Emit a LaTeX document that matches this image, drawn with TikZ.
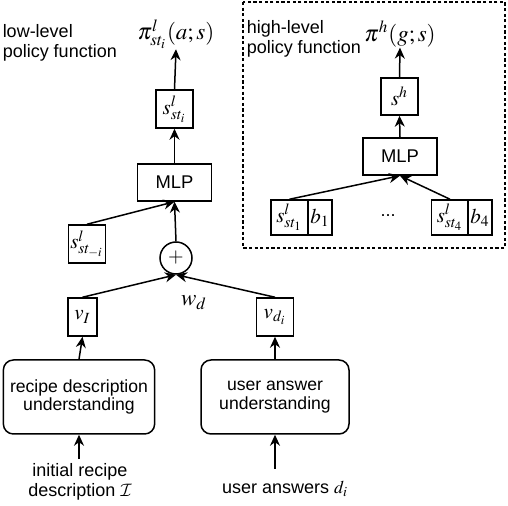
\documentclass[tikz,border=0pt]{standalone}
\usepackage{mathptmx}
\usepackage{fontspec}
\setmainfont{Liberation Sans}
\DeclareMathAlphabet{\mathcal}{OMS}{cmsy}{m}{n}
\usetikzlibrary{arrows.meta}
\tikzset{
	rectnode/.style={rectangle, draw, line width=0.75pt, inner sep=0pt, minimum width=18.5pt, minimum height=19pt, font=\fontsize{10.5}{12}\selectfont},
	mlpnode/.style={rectangle, draw, line width=0.75pt, inner sep=0pt, minimum width=37pt, minimum height=18.5pt, font=\fontsize{9.2}{10}\selectfont},
	roundnode/.style={circle, draw, line width=0.75pt, inner sep=0pt, minimum size=16pt, font=\fontsize{10}{12}\selectfont},
	modnode/.style={rectangle, rounded corners=5pt, draw, line width=0.75pt, align=center, minimum width=74pt, minimum height=37pt, font=\fontsize{8.8}{9.4}\selectfont},
	txtnode/.style={align=center, inner sep=0pt, font=\fontsize{9}{9.8}\selectfont},
	mathlbl/.style={inner sep=0pt, font=\fontsize{11.5}{12}\selectfont},
	mydashed/.style={dash pattern=on 1.6pt off 1.2pt, line width=0.7pt}
}
\begin{document}
\begin{tikzpicture}[x=0.5pt, y=-0.5pt, >={Stealth[length=5.5pt,width=5pt]}, line width=0.75pt]
	\useasboundingbox (0,0) rectangle (508,506);
	% low-level policy
	\node[txtnode, align=left, anchor=north west] at (2,24) (lowt) {low-level\\policy function};
	\node[mathlbl] at (176,34) (pil) {$\pi^{l}_{st_i}(a;s)$};
	\node[rectnode] at (174.5,109) (sl) {$s^{l}_{st_i}$};
	\node[mlpnode] at (174.5,182.5) (mlpl) {MLP};
	\node[rectnode] at (87,244) (slm) {$s^{l}_{st_{-i}}$};
	\node[roundnode] at (176,258) (plus) {$+$};
	\node[rectnode, minimum width=14.5pt] at (82.5,317) (vi) {$v_{I}$};
	\node[rectnode] at (275,317) (vd) {$v_{d_i}$};
	\node[mathlbl] at (194,303) (wd) {$w_d$};
	\node[modnode] at (79,397) (rdu) {recipe description\\understanding};
	\node[modnode] at (275,397) (uau) {user answer\\understanding};
	\node[txtnode] at (80,482) (init) {initial recipe\\description $\mathcal{I}$};
	\node[txtnode] at (285,489) (uans) {user answers $d_i$};

	\draw[->] (sl.north) -- (pil.south);
	\draw[->] (mlpl.north) -- (sl.south);
	\draw[->] (plus.north) -- (mlpl.south);
	\draw[->] (slm.north) -- (mlpl.south);
	\draw[->] (vi.north) -- (plus.south);
	\draw[->] (vd.north) -- (plus.south);
	\draw[->] (rdu.north) -- (vi.south);
	\draw[->] (uau.north) -- (vd.south);
	\draw[->, shorten <=2pt] (init.north -| rdu) -- (rdu.south);
	\draw[->, shorten <=6pt] (uans.north -| uau) -- (uau.south);

	% high-level policy
	\draw[mydashed] (243,2) rectangle (505,248);
	\node[txtnode, align=left, anchor=north west] at (246,20) (hight) {high-level\\policy function};
	\node[mathlbl] at (400,34) (pih) {$\pi^{h}(g;s)$};
	\node[rectnode, minimum height=18.5pt] at (399.5,96.5) (sh) {$s^{h}$};
	\node[mlpnode] at (400,156.5) (mlph) {MLP};
	\node[rectnode, minimum height=17.5pt] at (289.5,217.5) (s1) {$s^{l}_{st_1}$};
	\node[rectnode, minimum width=12pt, minimum height=17.5pt] at (320,217.5) (b1) {$b_1$};
	\node[txtnode] at (388,216) (dots) {...};
	\node[rectnode, minimum height=17.5pt] at (450,217.5) (s4) {$s^{l}_{st_4}$};
	\node[rectnode, minimum width=12pt, minimum height=17.5pt] at (480,217.5) (b4) {$b_4$};

	\draw[->] (sh.north) -- (pih.south);
	\draw[->] (mlph.north) -- (sh.south);
	\draw[->] (s1.north) -- (mlph.south);
	\draw[->] (s4.north) -- (mlph.south);
\end{tikzpicture}
\end{document}
